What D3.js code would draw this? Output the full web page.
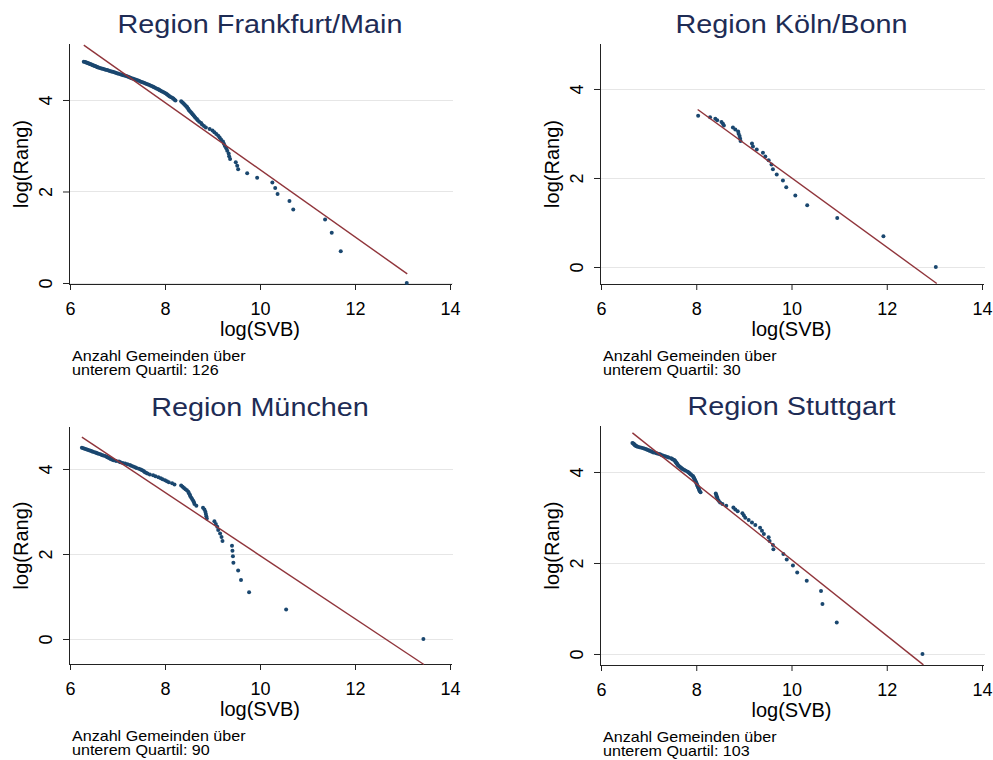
<!DOCTYPE html>
<html><head><meta charset="utf-8">
<script src="https://cdn.jsdelivr.net/npm/d3@7/dist/d3.min.js"></script>
<style>body{margin:0;background:#fff}svg{display:block}</style>
</head><body><svg id="c" width="993" height="760"></svg>
<script>
// log(Rang) for rank 1..126 (shared by all regions; each region uses its first N)
const logRang = [0.000,0.693,1.099,1.386,1.609,1.792,1.946,2.079,2.197,2.303,
 2.398,2.485,2.565,2.639,2.708,2.773,2.833,2.890,2.944,2.996,
 3.045,3.091,3.135,3.178,3.219,3.258,3.296,3.332,3.367,3.401,
 3.434,3.466,3.497,3.526,3.555,3.584,3.611,3.638,3.664,3.689,
 3.714,3.738,3.761,3.784,3.807,3.829,3.850,3.871,3.892,3.912,
 3.932,3.951,3.970,3.989,4.007,4.025,4.043,4.060,4.078,4.094,
 4.111,4.127,4.143,4.159,4.174,4.190,4.205,4.220,4.234,4.248,
 4.263,4.277,4.290,4.304,4.317,4.331,4.344,4.357,4.369,4.382,
 4.394,4.407,4.419,4.431,4.443,4.454,4.466,4.477,4.489,4.500,
 4.511,4.522,4.533,4.543,4.554,4.564,4.575,4.585,4.595,4.605,
 4.615,4.625,4.635,4.644,4.654,4.663,4.673,4.682,4.691,4.700,
 4.710,4.718,4.727,4.736,4.745,4.754,4.762,4.771,4.779,4.787,
 4.796,4.804,4.812,4.820,4.828,4.836];

// log(SVB) per rank
const svbFrankfurt = [13.09,11.70,11.51,11.37,10.70,10.62,10.37,10.32,10.26,9.94,
 9.73,9.54,9.52,9.49,9.37,9.35,9.34,9.31,9.29,9.26,
 9.24,9.22,9.18,9.15,9.12,9.08,9.04,9.00,8.94,8.86,
 8.82,8.78,8.76,8.72,8.69,8.67,8.64,8.62,8.60,8.58,
 8.56,8.54,8.52,8.50,8.49,8.47,8.46,8.44,8.42,8.40,
 8.38,8.36,8.34,8.22,8.20,8.18,8.16,8.13,8.10,8.08,
 8.06,8.04,8.02,7.99,7.96,7.93,7.90,7.88,7.86,7.83,
 7.80,7.77,7.75,7.72,7.69,7.66,7.63,7.60,7.57,7.54,
 7.51,7.48,7.45,7.42,7.39,7.36,7.33,7.30,7.27,7.24,
 7.21,7.18,7.15,7.12,7.09,7.06,7.02,6.99,6.96,6.93,
 6.90,6.87,6.84,6.81,6.78,6.75,6.72,6.69,6.66,6.63,
 6.60,6.58,6.56,6.54,6.52,6.50,6.48,6.46,6.44,6.42,
 6.40,6.38,6.36,6.34,6.32,6.29];
const svbKoeln = [13.03,11.93,10.96,10.33,10.08,9.89,9.82,9.69,9.61,9.58,
 9.52,9.45,9.40,9.27,9.19,9.17,8.93,8.92,8.91,8.89,
 8.88,8.82,8.77,8.58,8.56,8.53,8.44,8.40,8.29,8.04];
const svbMuenchen = [13.44,10.55,9.77,9.60,9.54,9.44,9.43,9.42,9.41,9.21,
 9.19,9.16,9.12,9.10,9.07,9.04,8.88,8.87,8.86,8.85,
 8.83,8.80,8.66,8.62,8.61,8.59,8.57,8.55,8.53,8.52,
 8.50,8.49,8.46,8.43,8.40,8.37,8.34,8.20,8.15,8.08,
 8.04,8.00,7.95,7.91,7.86,7.80,7.75,7.68,7.63,7.60,
 7.57,7.55,7.52,7.49,7.45,7.40,7.37,7.33,7.29,7.26,
 7.21,7.16,7.11,7.06,7.03,6.97,6.92,6.89,6.86,6.84,
 6.81,6.79,6.77,6.74,6.70,6.67,6.64,6.60,6.57,6.55,
 6.52,6.48,6.46,6.43,6.40,6.37,6.34,6.31,6.28,6.25];
const svbStuttgart = [12.75,10.95,10.65,10.62,10.32,10.12,10.03,9.90,9.83,9.62,
 9.61,9.54,9.52,9.42,9.38,9.34,9.24,9.17,9.10,9.03,
 9.00,8.97,8.87,8.82,8.78,8.63,8.55,8.50,8.47,8.45,
 8.44,8.43,8.42,8.41,8.09,8.07,8.06,8.05,8.04,8.03,
 8.02,8.01,8.00,7.99,7.98,7.97,7.96,7.95,7.94,7.93,
 7.90,7.88,7.86,7.84,7.82,7.78,7.75,7.72,7.70,7.68,
 7.66,7.64,7.62,7.61,7.60,7.59,7.58,7.57,7.56,7.55,
 7.54,7.51,7.49,7.47,7.42,7.39,7.35,7.31,7.28,7.25,
 7.22,7.18,7.15,7.10,7.07,7.05,7.02,7.00,6.97,6.95,
 6.92,6.89,6.85,6.81,6.77,6.75,6.73,6.72,6.71,6.70,
 6.69,6.68,6.66];

// fitted lines: [x, y] start and end
const fitFrankfurt = [[6.29, 5.20], [13.10, 0.20]];
const fitKoeln     = [[8.03, 3.54], [13.05, -0.37]];
const fitMuenchen  = [[6.25, 4.75], [13.45, -0.60]];
const fitStuttgart = [[6.66, 4.86], [12.77, -0.24]];

const regionTitles = ["Region Frankfurt/Main", "Region Köln/Bonn", "Region München", "Region Stuttgart"];
const gemeindenCounts = [126, 30, 90, 103];
const xTicks = [6, 8, 10, 12, 14];
const yTicks = [0, 2, 4];
const xTitle = "log(SVB)";
const yTitle = "log(Rang)";
const noteLine1 = "Anzahl Gemeinden über";
const noteLine2 = "unterem Quartil: ";

const seriesX = [svbFrankfurt, svbKoeln, svbMuenchen, svbStuttgart];
const fits = [fitFrankfurt, fitKoeln, fitMuenchen, fitStuttgart];

// layout (pixels)
const layout = [
  {x0: 70,  x1: 450, top: 44,  bottom: 284, yDom: [-0.022, 5.224]},
  {x0: 601, x1: 982, top: 44,  bottom: 284, yDom: [-0.382, 5.011]},
  {x0: 70,  x1: 450, top: 427, bottom: 664, yDom: [-0.588, 4.988]},
  {x0: 601, x1: 982, top: 426, bottom: 665, yDom: [-0.242, 5.011]}
];

const svg = d3.select("#c");
const FONT = "Arial, 'Liberation Sans', Helvetica, sans-serif";
const dotColor = "#1a476f", fitColor = "#90353b", titleColor = "#1e2c55";

layout.forEach((L, i) => {
  const x = d3.scaleLinear().domain([6, 14]).range([L.x0, L.x1]);
  const y = d3.scaleLinear().domain(L.yDom).range([L.bottom, L.top]);
  const g = svg.append("g");
  const axisX = L.x0 - 1;

  // grid
  g.append("g").selectAll("line").data(yTicks).join("line")
    .attr("x1", axisX).attr("x2", L.x1 + 3)
    .attr("y1", d => Math.round(y(d)) + 0.5).attr("y2", d => Math.round(y(d)) + 0.5)
    .attr("stroke", "#e6e6e6").attr("stroke-width", 1);

  // x axis
  const xa = g.append("g").attr("transform", `translate(0,${L.bottom})`)
    .call(d3.axisBottom(x).tickValues(xTicks).tickFormat(d3.format("d")).tickSize(6).tickSizeOuter(0));
  xa.select(".domain").attr("d", `M${axisX},0.5H${L.x1 + 2}`).attr("stroke", "#222");
  xa.selectAll(".tick line").attr("stroke", "#222");
  xa.selectAll(".tick text").attr("font-size", 18).attr("font-family", FONT).attr("fill", "#000")
    .attr("dy", null).attr("y", 31);

  // y axis
  const ya = g.append("g").attr("transform", `translate(${axisX},0)`)
    .call(d3.axisLeft(y).tickValues(yTicks).tickFormat(d3.format("d")).tickSize(6).tickSizeOuter(0));
  ya.select(".domain").attr("d", `M0.5,${L.top}V${L.bottom}`).attr("stroke", "#222");
  ya.selectAll(".tick line").attr("stroke", "#222");
  ya.selectAll(".tick text").attr("font-size", 18).attr("font-family", FONT).attr("fill", "#000")
    .attr("x", null).attr("dy", null).attr("text-anchor", "middle")
    .attr("transform", "translate(-17,0) rotate(-90)");

  // titles
  const cx = (L.x0 + L.x1) / 2;
  g.append("text").attr("x", cx).attr("y", L.top - 11)
    .attr("text-anchor", "middle").attr("font-family", FONT).attr("font-size", 25.5)
    .attr("fill", titleColor)
    .attr("transform", `translate(${cx},0) scale(1.13,1) translate(${-cx},0)`)
    .text(regionTitles[i]);

  g.append("text").attr("x", cx).attr("y", L.bottom + 52)
    .attr("text-anchor", "middle").attr("font-family", FONT).attr("font-size", 20)
    .attr("fill", "#000").text(xTitle);

  const ymid = (L.top + L.bottom) / 2;
  g.append("text").attr("transform", `translate(${axisX - 41},${ymid}) rotate(-90)`)
    .attr("text-anchor", "middle").attr("font-family", FONT).attr("font-size", 20)
    .attr("fill", "#000").text(yTitle);

  // note
  const nx = L.x0 + 2;
  const note = g.append("g").attr("transform", `translate(${nx},0) scale(1.15,1) translate(${-nx},0)`);
  note.append("text").attr("x", nx).attr("y", L.bottom + 77).attr("font-family", FONT)
    .attr("font-size", 14).attr("fill", "#000").text(noteLine1);
  note.append("text").attr("x", nx).attr("y", L.bottom + 91).attr("font-family", FONT)
    .attr("font-size", 14).attr("fill", "#000").text(noteLine2 + gemeindenCounts[i]);

  // points
  const pts = seriesX[i].map((v, k) => [v, logRang[k]]);
  g.append("g").selectAll("circle").data(pts).join("circle")
    .attr("cx", d => x(d[0])).attr("cy", d => y(d[1])).attr("r", 2)
    .attr("fill", dotColor);

  // fit line
  g.append("path").datum(fits[i])
    .attr("d", d3.line().x(d => x(d[0])).y(d => y(d[1])))
    .attr("stroke", fitColor).attr("stroke-width", 1.4).attr("fill", "none");
});
</script></body></html>
